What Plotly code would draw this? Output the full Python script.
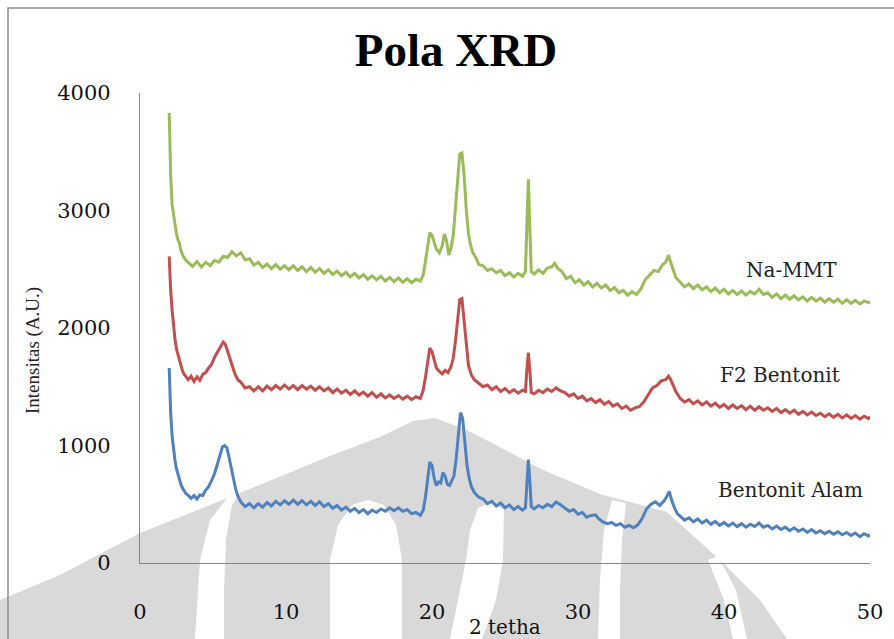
import plotly.graph_objects as go

# ---------------- data ----------------
mmt_x = [2.0, 2.05, 2.1, 2.2, 2.3, 2.4, 2.5, 2.6, 2.7, 2.8, 2.9, 3.0, 3.15, 3.3,
         3.6, 3.9, 4.2, 4.5, 4.8, 5.1, 5.4, 5.7, 6.0, 6.3, 6.6, 6.9, 7.2, 7.5, 7.8, 8.1, 8.4, 8.7, 9.0, 9.3, 9.6, 9.9,
         10.2, 10.5, 10.8, 11.1, 11.4, 11.7, 12.0, 12.3, 12.6, 12.9, 13.2, 13.5, 13.8, 14.1, 14.4, 14.7, 15.0, 15.3,
         15.6, 15.9, 16.2, 16.5, 16.8, 17.1, 17.4, 17.7, 18.0, 18.3, 18.6, 18.9, 19.2,
         19.4, 19.55, 19.7, 19.85, 20.0, 20.15, 20.3, 20.5, 20.7, 20.85, 21.0, 21.15, 21.3, 21.45, 21.6, 21.75, 21.9,
         22.05, 22.2, 22.35, 22.5, 22.65, 22.8, 23.0, 23.2, 23.5, 23.8, 24.1, 24.4, 24.7, 25.0, 25.3, 25.6, 25.9,
         26.2, 26.4, 26.5, 26.6, 26.7, 26.8, 27.0, 27.3, 27.6, 27.9, 28.2, 28.4, 28.6, 28.9, 29.2, 29.5, 29.8,
         30.1, 30.4, 30.7, 31.0, 31.3, 31.6, 31.9, 32.2, 32.5, 32.8, 33.1, 33.4, 33.7, 34.0, 34.3, 34.6, 34.9,
         35.2, 35.5, 35.8, 36.0, 36.2, 36.35, 36.5, 36.7, 37.0, 37.3, 37.6, 37.9, 38.2, 38.5, 38.8, 39.1, 39.4,
         39.7, 40.0, 40.3, 40.6, 40.9, 41.2, 41.5, 41.8, 42.1, 42.4, 42.7, 43.0, 43.3, 43.6, 43.9, 44.2, 44.5,
         44.8, 45.1, 45.4, 45.7, 46.0, 46.3, 46.6, 46.9, 47.2, 47.5, 47.8, 48.1, 48.4, 48.7, 49.0, 49.3, 49.6,
         49.9, 50.0]
mmt_y = [3830, 3500, 3300, 3050, 2950, 2860, 2800, 2750, 2720, 2660, 2630, 2600, 2575, 2560,
         2525, 2565, 2520, 2560, 2530, 2575, 2560, 2610, 2600, 2650, 2615, 2640, 2580, 2590, 2535, 2560, 2515, 2545, 2505, 2540, 2500, 2530,
         2495, 2530, 2490, 2520, 2480, 2515, 2475, 2505, 2465, 2495, 2455, 2485, 2445, 2475, 2435, 2465, 2425, 2455,
         2415, 2445, 2410, 2440, 2400, 2430, 2395, 2425, 2390, 2420, 2385, 2415, 2400,
         2450, 2560, 2700, 2810, 2790, 2720, 2670, 2640, 2700, 2800, 2740, 2620, 2680, 2780, 3000, 3250, 3480,
         3490, 3300, 3000, 2800, 2700, 2640, 2600, 2540, 2530, 2490, 2505, 2470, 2490, 2445, 2470, 2435, 2465,
         2440, 2480, 2800, 3265, 2850, 2480, 2460, 2495, 2465, 2510, 2520, 2550, 2510, 2480, 2420, 2440, 2385,
         2410, 2365, 2395, 2350, 2380, 2340, 2365, 2320, 2345, 2300, 2320, 2280, 2310, 2285, 2330, 2410, 2450,
         2490, 2480, 2540, 2560, 2620, 2560, 2500, 2430, 2390, 2350, 2375, 2335, 2365, 2325, 2350, 2310, 2340,
         2300, 2330, 2290, 2320, 2285, 2315, 2280, 2310, 2290, 2330, 2285, 2300, 2260, 2290, 2250, 2280, 2245,
         2275, 2240, 2265, 2230, 2260, 2230, 2255, 2220, 2250, 2220, 2245, 2210, 2240, 2210, 2235, 2205, 2230,
         2215, 2225]

f2_x = [2.0, 2.05, 2.1, 2.2, 2.3, 2.4, 2.5, 2.6, 2.7, 2.8, 2.9, 3.0, 3.15, 3.3, 3.5, 3.7, 3.9, 4.1, 4.3, 4.5,
        4.7, 4.9, 5.1, 5.3, 5.5, 5.7, 5.85, 6.0, 6.15, 6.3, 6.5, 6.7, 6.9, 7.2, 7.5, 7.8, 8.1, 8.4, 8.7, 9.0,
        9.3, 9.6, 9.9, 10.2, 10.5, 10.8, 11.1, 11.4, 11.7, 12.0, 12.3, 12.6, 12.9, 13.2, 13.5, 13.8, 14.1, 14.4,
        14.7, 15.0, 15.3, 15.6, 15.9, 16.2, 16.5, 16.8, 17.1, 17.4, 17.7, 18.0, 18.3, 18.6, 18.9, 19.2,
        19.4, 19.55, 19.7, 19.85, 20.0, 20.15, 20.3, 20.5, 20.7, 20.9, 21.1, 21.3, 21.45, 21.6, 21.75, 21.9,
        22.05, 22.2, 22.35, 22.5, 22.7, 22.9, 23.2, 23.5, 23.8, 24.1, 24.4, 24.7, 25.0, 25.3, 25.6, 25.9,
        26.2, 26.4, 26.5, 26.6, 26.7, 26.8, 27.0, 27.3, 27.6, 27.9, 28.2, 28.5, 28.8, 29.1, 29.4, 29.7,
        30.0, 30.3, 30.6, 30.9, 31.2, 31.5, 31.8, 32.1, 32.4, 32.7, 33.0, 33.3, 33.6, 33.9, 34.2, 34.5,
        34.8, 35.1, 35.4, 35.7, 36.0, 36.2, 36.35, 36.5, 36.7, 37.0, 37.3, 37.6, 37.9, 38.2, 38.5, 38.8,
        39.1, 39.4, 39.7, 40.0, 40.3, 40.6, 40.9, 41.2, 41.5, 41.8, 42.1, 42.4, 42.7, 43.0, 43.3, 43.6,
        43.9, 44.2, 44.5, 44.8, 45.1, 45.4, 45.7, 46.0, 46.3, 46.6, 46.9, 47.2, 47.5, 47.8, 48.1, 48.4,
        48.7, 49.0, 49.3, 49.6, 49.9, 50.0]
f2_y = [2610, 2450, 2320, 2150, 2000, 1900, 1820, 1770, 1720, 1680, 1640, 1610, 1580, 1560, 1590, 1545, 1585, 1555, 1605, 1620,
        1660, 1690, 1750, 1790, 1840, 1880, 1860, 1800, 1740, 1670, 1610, 1560, 1540, 1490, 1500, 1465, 1500, 1465, 1505, 1475,
        1510, 1480, 1515, 1480, 1510, 1475, 1510, 1480, 1505, 1470, 1500, 1465, 1490, 1450, 1480, 1445, 1470, 1435,
        1465, 1430, 1455, 1420, 1450, 1410, 1440, 1405, 1430, 1400, 1425, 1395, 1420, 1390, 1415, 1400,
        1470, 1580, 1720, 1830, 1800, 1720, 1660, 1630, 1610, 1640, 1620, 1670, 1740, 1880, 2060, 2240,
        2250, 2050, 1830, 1680, 1600, 1560, 1530, 1500, 1515, 1475, 1500, 1460, 1485, 1450, 1475, 1445,
        1470, 1460, 1650, 1790, 1640, 1450, 1440, 1470, 1450, 1480, 1460, 1490, 1465, 1450, 1420, 1440,
        1400, 1420, 1380, 1400, 1365, 1390, 1350, 1375, 1335, 1355, 1315, 1335, 1300, 1320, 1330, 1370,
        1430, 1490, 1510, 1550, 1560, 1590, 1560, 1510, 1460, 1400, 1370, 1390, 1355, 1380, 1345, 1370,
        1335, 1360, 1325, 1350, 1315, 1345, 1315, 1340, 1305, 1335, 1300, 1330, 1300, 1320, 1290, 1315,
        1280, 1305, 1275, 1300, 1265, 1290, 1260, 1285, 1255, 1275, 1245, 1270, 1240, 1265, 1235, 1260,
        1230, 1255, 1225, 1250, 1230, 1245]

alam_x = [2.0, 2.05, 2.1, 2.2, 2.3, 2.4, 2.5, 2.6, 2.7, 2.8, 2.9, 3.0, 3.15, 3.3, 3.5, 3.7, 3.9, 4.1, 4.3, 4.5,
          4.7, 4.9, 5.1, 5.3, 5.5, 5.65, 5.8, 5.95, 6.1, 6.25, 6.4, 6.55, 6.7, 6.9, 7.2, 7.5, 7.8, 8.1, 8.4, 8.7,
          9.0, 9.3, 9.6, 9.9, 10.2, 10.5, 10.8, 11.1, 11.4, 11.7, 12.0, 12.3, 12.6, 12.9, 13.2, 13.5, 13.8, 14.1,
          14.4, 14.7, 15.0, 15.3, 15.6, 15.9, 16.2, 16.5, 16.8, 17.1, 17.4, 17.7, 18.0, 18.3, 18.6, 18.9, 19.2,
          19.4, 19.55, 19.7, 19.85, 20.0, 20.15, 20.3, 20.45, 20.6, 20.75, 20.9, 21.05, 21.2, 21.35, 21.5, 21.65,
          21.8, 21.95, 22.1, 22.25, 22.4, 22.55, 22.7, 22.9, 23.2, 23.5, 23.8, 24.1, 24.4, 24.7, 25.0, 25.3, 25.6,
          25.9, 26.2, 26.4, 26.5, 26.6, 26.7, 26.8, 27.0, 27.3, 27.6, 27.9, 28.2, 28.5, 28.8, 29.1, 29.4, 29.7,
          30.0, 30.3, 30.6, 30.9, 31.2, 31.4, 31.7, 32.0, 32.3, 32.6, 32.9, 33.2, 33.5, 33.8, 34.1, 34.4, 34.7,
          35.0, 35.3, 35.6, 35.9, 36.1, 36.25, 36.4, 36.6, 36.8, 37.0, 37.3, 37.6, 37.9, 38.2, 38.5, 38.8, 39.1,
          39.4, 39.7, 40.0, 40.3, 40.6, 40.9, 41.2, 41.5, 41.8, 42.1, 42.4, 42.7, 43.0, 43.3, 43.6, 43.9, 44.2,
          44.5, 44.8, 45.1, 45.4, 45.7, 46.0, 46.3, 46.6, 46.9, 47.2, 47.5, 47.8, 48.1, 48.4, 48.7, 49.0, 49.3,
          49.6, 49.9, 50.0]
alam_y = [1660, 1450, 1280, 1080, 950, 870, 800, 750, 710, 670, 640, 615, 590, 575, 550, 575, 545, 580, 575, 620,
          650, 700, 760, 840, 920, 990, 1000, 980, 900, 810, 710, 630, 570, 520, 480, 505, 470, 505, 475, 515,
          485, 525, 495, 530, 500, 535, 500, 530, 495, 525, 490, 520, 480, 505, 465, 490, 450, 475,
          440, 465, 430, 455, 420, 450, 430, 460, 440, 470, 445, 470, 440, 455, 420, 430, 405,
          450, 560, 740, 860, 830, 720, 660, 690, 680, 770, 740, 670, 660, 700, 740, 880,
          1080, 1280, 1230, 1000, 830, 720, 650, 600, 560, 545, 505, 525, 485, 510, 470, 495, 455,
          480, 450, 470, 720, 880, 700, 480, 460, 490, 470, 500, 480, 520, 495, 470, 440, 455,
          415, 430, 390, 405, 410, 380, 350, 335, 345, 320, 335, 305, 320, 300, 325, 380, 460,
          500, 520, 490, 530, 570, 610, 540, 470, 420, 395, 365, 385, 350, 375, 340, 365, 330,
          355, 320, 345, 315, 340, 310, 335, 305, 330, 310, 340, 305, 320, 290, 315, 285, 305,
          275, 300, 270, 290, 260, 285, 255, 275, 250, 270, 245, 265, 240, 260, 235, 255, 225,
          250, 230, 245]

series_names = ["Na-MMT", "F2 Bentonit", "Bentonit Alam"]
series_colors = ["#9bbb59", "#c0504d", "#4f81bd"]
x_ticks = [0, 10, 20, 30, 40, 50]
y_ticks = [0, 1000, 2000, 3000, 4000]

# ---------------- layout geometry (pixels of the 894x639 picture) ----------------
W, H = 894, 639
L, R, T, B = 140, 24, 93, 76
PW, PH = W - L - R, H - T - B


def px(xp):
    return (xp - L) / PW


def py(yp):
    return (H - B - yp) / PH


def path_from(points):
    pts = [f"{px(a):.4f},{py(b):.4f}" for a, b in points]
    return "M " + " L ".join(pts) + " Z"


fig = go.Figure()

for xs, ys, name, col in zip([mmt_x, f2_x, alam_x], [mmt_y, f2_y, alam_y], series_names, series_colors):
    fig.add_trace(go.Scatter(x=xs, y=ys, mode="lines", name=name,
                             line=dict(color=col, width=3), showlegend=False))

# series labels
label_pos = [(791, 270), (780, 375), (790, 490)]
for name, (lx, ly) in zip(series_names, label_pos):
    fig.add_annotation(x=px(lx), y=py(ly), xref="paper", yref="paper", text=name, showarrow=False,
                       font=dict(family="DejaVu Serif", size=20, color="#222222"),
                       xanchor="center", yanchor="middle")

# axis titles
fig.add_annotation(x=px(33), y=py(351), xref="paper", yref="paper", text="Intensitas (A.U.)",
                   showarrow=False, textangle=-90,
                   font=dict(family="Liberation Serif", size=19, color="#222222"),
                   xanchor="center", yanchor="middle")
fig.add_annotation(x=px(505), y=py(627), xref="paper", yref="paper", text="2 tetha",
                   showarrow=False,
                   font=dict(family="DejaVu Serif", size=20, color="#111111"),
                   xanchor="center", yanchor="middle")

# watermark (light grey logo in the background)
wm_grey = "#d9d9d9"
dome = [(0, 600), (60, 575), (140, 533), (230, 497), (330, 456), (380, 437), (413, 421), (435, 418),
        (467, 430), (543, 470), (600, 494), (667, 512), (720, 560), (760, 600), (787, 639), (0, 639)]
slits = [
    [(195, 639), (200, 560), (210, 520), (228, 497), (240, 493), (232, 505), (226, 540), (224, 590), (224, 639)],
    [(330, 639), (330, 560), (338, 525), (352, 505), (368, 500), (384, 505), (396, 525), (402, 560), (402, 639)],
    [(450, 639), (458, 600), (466, 560), (470, 530), (478, 508), (492, 502), (504, 510), (503, 560), (496, 600),
     (482, 639)],
    [(598, 639), (600, 580), (604, 530), (612, 500), (626, 503), (622, 540), (620, 590), (620, 639)],
    [(733, 639), (724, 600), (708, 560), (718, 556), (736, 590), (747, 639)],
]
shapes = [dict(type="path", path=path_from(dome), xref="paper", yref="paper",
               fillcolor=wm_grey, line=dict(width=0), layer="below")]
for s in slits:
    shapes.append(dict(type="path", path=path_from(s), xref="paper", yref="paper",
                       fillcolor="white", line=dict(width=0), layer="below"))
# outer chart-area border
shapes.append(dict(type="rect", xref="paper", yref="paper", x0=px(8), x1=px(900), y0=py(650), y1=py(8),
                   line=dict(color="#8c8c8c", width=1.5), fillcolor="rgba(0,0,0,0)", layer="below"))

fig.update_layout(
    width=W, height=H,
    margin=dict(l=L, r=R, t=T, b=B),
    paper_bgcolor="white",
    plot_bgcolor="rgba(0,0,0,0)",
    title=dict(text="<b>Pola XRD</b>", x=px(456), xref="paper", xanchor="center",
               y=1 - 50 / H, yanchor="middle",
               font=dict(family="Liberation Serif", size=47, color="#000000")),
    shapes=shapes,
    xaxis=dict(range=[0, 50], tickvals=x_ticks, showgrid=False, zeroline=False,
               showline=True, linecolor="#868686", linewidth=1.2, ticks="",
               ticklabelstandoff=30,
               tickfont=dict(family="DejaVu Serif", size=21, color="#111111")),
    yaxis=dict(range=[0, 4000], tickvals=y_ticks, showgrid=False, zeroline=False,
               showline=True, linecolor="#868686", linewidth=1.2, ticks="",
               ticklabelstandoff=24,
               tickfont=dict(family="DejaVu Serif", size=21, color="#111111")),
)

fig.write_html("out.html", config={"displayModeBar": False},
               post_script="document.body.style.margin='0px';")
